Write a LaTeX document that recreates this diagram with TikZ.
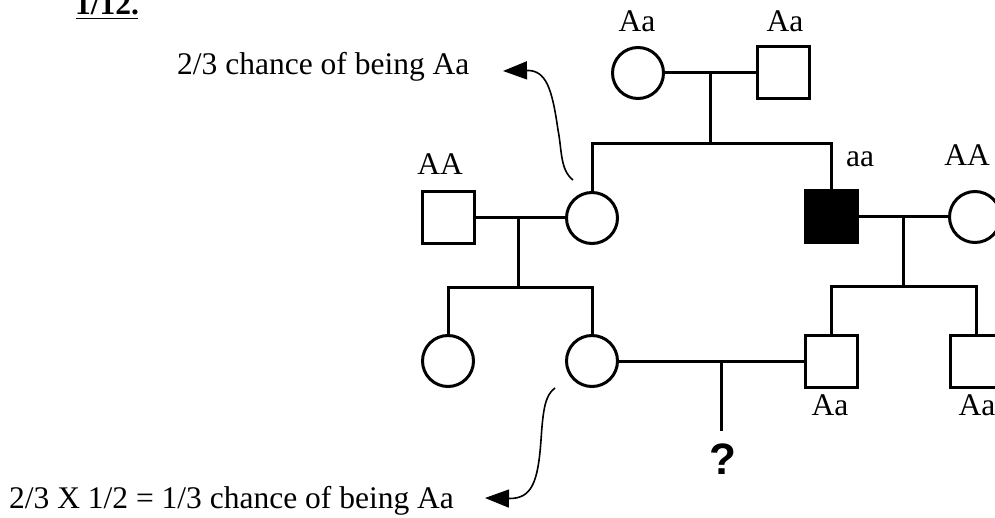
\documentclass[tikz,border=0pt]{standalone}
\usepackage{fontspec}
\setmainfont{Liberation Serif}
\newfontfamily\qfont{Liberation Sans}
\usetikzlibrary{arrows.meta}
\tikzset{
  ped/.style={line width=3pt},
  fem/.style={circle,draw,line width=3pt,minimum size=51pt,inner sep=0pt},
  mal/.style={rectangle,draw,line width=3pt,minimum size=52pt,inner sep=0pt},
  aff/.style={mal,fill=black},
  lab/.style={anchor=base,inner sep=0pt,font=\fontsize{31.5}{34}\selectfont},
  note/.style={anchor=base west,inner sep=0pt,font=\fontsize{31.5}{34}\selectfont},
  pointer/.style={line width=1.6pt,-{Triangle[length=24pt,width=18pt]}},
}
\begin{document}
\begin{tikzpicture}[x=1pt,y=-1pt]
\useasboundingbox (0,0) rectangle (995,518);
\clip (0,0) rectangle (995,518);
% title fragment
\node[anchor=base,inner sep=0pt,font=\fontsize{31.5}{34}\selectfont\bfseries] (title) at (107,15) {1/12.};
\draw[line width=1.8pt] (76,18.5) -- (138,18.5);
% generation I
\node[fem] (gm) at (638,73) {};
\node[mal] (gf) at (783,73) {};
\node[lab] (lgm) at (637,32) {Aa};
\node[lab] (lgf) at (785,32) {Aa};
\coordinate (j1) at (710,73);
\coordinate (s1) at (710,144);
% generation II
\node[mal] (hA) at (448,218) {};
\node[fem] (mom) at (592,218) {};
\node[aff] (son) at (831,217) {};
\node[fem] (wife) at (975,217) {};
\node[lab] (lhA) at (440,175) {AA};
\node[lab] (lson) at (860,167) {aa};
\node[lab] (lwife) at (967,166) {AA};
\coordinate (j2) at (518,218);
\coordinate (s2) at (518,288);
\coordinate (j3) at (903,217);
\coordinate (s3) at (903,287);
% generation III
\node[fem] (c1) at (448,361) {};
\node[fem] (c2) at (592,361) {};
\node[mal] (b1) at (831,361) {};
\node[mal] (b2) at (976,361) {};
\node[lab] (lb1) at (830,415) {Aa};
\node[lab] (lb2) at (977,415) {Aa};
\coordinate (j4) at (721,361);
\coordinate (s4) at (721,431);
\node[inner sep=0pt,font=\qfont\fontsize{44}{46}\selectfont\bfseries] (q) at (723,459) {?};
% lines
\draw[ped] (gm.east) -- (gf.west);
\draw[ped] (j1) -- (s1);
\draw[ped] (mom.north) |- (s1) -| (son.north);
\draw[ped] (hA.east) -- (mom.west);
\draw[ped] (j2) -- (s2);
\draw[ped] (c1.north) |- (s2) -| (c2.north);
\draw[ped] (son.east) -- (wife.west);
\draw[ped] (j3) -- (s3);
\draw[ped] (b1.north) |- (s3) -| (b2.north);
\draw[ped] (c2.east) -- (b1.west);
\draw[ped] (j4) -- (s4);
% annotations
\node[note] (n1) at (177,75) {2/3 chance of being Aa};
\node[note] (n2) at (9,508) {2/3 X 1/2 = 1/3 chance of being Aa};
\coordinate (a1s) at (573,180);
\coordinate (a1e) at (503,71);
\coordinate (a2s) at (555,388);
\coordinate (a2e) at (485,498);
\draw[pointer] (a1s) .. controls (560,170) and (562,150) .. (558,130)
  .. controls (552,88) and (546,70) .. (a1e);
\draw[pointer] (a2s) .. controls (545,395) and (543,410) .. (541,440)
  .. controls (538,482) and (532,499) .. (a2e);
\end{tikzpicture}
\end{document}
